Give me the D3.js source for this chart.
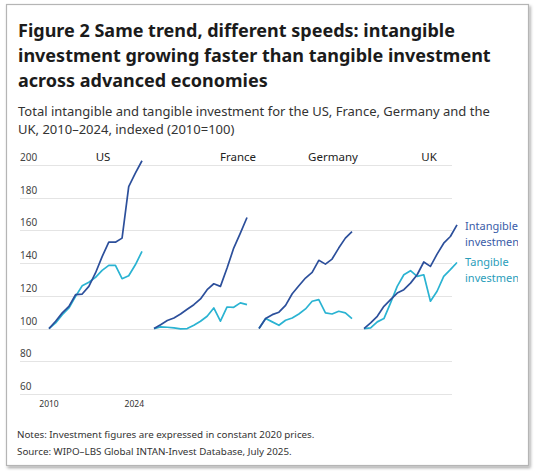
<!DOCTYPE html>
<html>
<head>
<meta charset="utf-8">
<script src="https://cdn.jsdelivr.net/npm/d3@7"></script>
<style>
  html, body { margin: 0; padding: 0; background: #fff; }
  svg { display: block; font-family: "Noto Sans", "Open Sans", sans-serif; }
</style>
</head>
<body>
<svg id="chart" width="537" height="474"></svg>
<script>
// ---------- data ----------
const years = [2010,2011,2012,2013,2014,2015,2016,2017,2018,2019,2020,2021,2022,2023,2024];
const countries = ["US", "France", "Germany", "UK"];
const intangibleUS      = [100,104.5,109.6,113.6,120.7,121.1,125.8,134,144,152.8,152.8,155.3,186.8,195,202.6];
const tangibleUS        = [100,103.5,108.5,112.6,119.7,126.2,128.3,131.3,135.6,138.6,138.6,130.5,132.3,139,147.2];
const intangibleFrance  = [100,102.4,104.9,106.5,108.9,111.8,114.6,118.1,123.8,127.4,125.8,137,149.2,158.3,167.9];
const tangibleFrance    = [100,101,100.8,100.4,99.8,100,102,104.5,107.5,112.6,104.5,113.2,113,115.7,114.6];
const intangibleGermany = [100,106.1,108.5,110,114.2,121.3,126.2,130.9,134.3,141.7,139.4,142.5,149.2,155.3,159.3];
const tangibleGermany   = [100,106.1,104.1,102,105.1,106.5,108.9,112,116.7,117.7,109.6,108.9,110.6,109.6,106.1];
const intangibleUK      = [100,103.5,107.5,113.6,117.7,121.7,123.8,127.8,132.9,140.7,138,145.5,152.2,156.3,163.4];
const tangibleUK        = [100,100.4,104.1,106.1,115.7,125.8,132.9,135.4,131.9,132.9,116.7,122.8,131.9,136,140.4];
const yTicks = [60,80,100,120,140,160,180,200];
const xTickLabels = ["2010","2024"];
const seriesNames = ["Intangible investment", "Tangible investment"];

const titleLines = [
  "Figure 2 Same trend, different speeds: intangible",
  "investment growing faster than tangible investment",
  "across advanced economies"
];
const subtitleLines = [
  "Total intangible and tangible investment for the US, France, Germany and the",
  "UK, 2010–2024, indexed (2010=100)"
];
const noteLines = [
  "Notes: Investment figures are expressed in constant 2020 prices.",
  "Source: WIPO–LBS Global INTAN-Invest Database, July 2025."
];

// ---------- layout / style ----------
const colInt = "#2c4f9b", colTan = "#2ab3d2";
const colIntText = "#3a5ca8", colTanText = "#2a9dba";
const titleCenterX = { US: 103, France: 238, Germany: 333, UK: 429 };

const svg = d3.select("#chart");

const defs = svg.append("defs");
const f = defs.append("filter").attr("id","shadow").attr("x","-5%").attr("y","-5%").attr("width","110%").attr("height","110%");
f.append("feDropShadow").attr("dx",1.5).attr("dy",2).attr("stdDeviation",1.5).attr("flood-color","#000").attr("flood-opacity",0.35);
defs.append("clipPath").attr("id","legendClip").append("rect").attr("x",0).attr("y",0).attr("width",518).attr("height",474);

// frame
svg.append("rect").attr("x",6.5).attr("y",4.5).attr("width",522).attr("height",461)
  .attr("fill","#fff").attr("stroke","#b5b5b5").attr("stroke-width",1.2).attr("filter","url(#shadow)");

function fitLines(sel, lines, x, y0, lh, targetW, weight, color, startSize) {
  const g = sel.append("g");
  const texts = g.selectAll("text").data(lines).join("text")
    .attr("x", x).attr("y", (d,i) => y0 + i*lh)
    .attr("fill", color).attr("font-weight", weight)
    .attr("font-size", startSize).text(d => d);
  const w = texts.node().getComputedTextLength();
  const size = startSize * targetW / w;
  texts.attr("font-size", size);
  return g;
}

fitLines(svg, titleLines, 18, 37, 25, 437, 700, "#1b1b1b", 20);
fitLines(svg, subtitleLines, 18, 116, 17.5, 472, 400, "#333", 14);
fitLines(svg, noteLines, 17, 438, 16.5, 298, 400, "#333", 10);

// scales
const y = d3.scaleLinear().domain([60, 200]).range([394, 165]);
const panel = d3.scalePoint().domain(countries).range([49, 364]);
const x = d3.scaleLinear().domain([2010, 2024]).range([0, 93]);

// gridlines + y labels
const grid = svg.append("g");
grid.selectAll("line").data(yTicks).join("line")
  .attr("x1", 20).attr("x2", 452)
  .attr("y1", d => Math.round(y(d)) + 0.5).attr("y2", d => Math.round(y(d)) + 0.5)
  .attr("stroke", "#e4e4e4").attr("stroke-width", 1);
grid.selectAll("text").data(yTicks).join("text")
  .attr("x", 20).attr("y", d => y(d) - 4)
  .attr("font-size", 10).attr("fill", "#444").text(d => d);

// x labels (under US panel)
svg.append("g").selectAll("text").data(xTickLabels).join("text")
  .attr("x", (d,i) => panel("US") + x(+d) + (i === 0 ? 0 : 2))
  .attr("y", 407)
  .attr("text-anchor", (d,i) => i === 0 ? "middle" : "end")
  .attr("font-size", 8.5).attr("fill", "#333").text(d => d);

// panels
const seriesData = {
  US: [intangibleUS, tangibleUS],
  France: [intangibleFrance, tangibleFrance],
  Germany: [intangibleGermany, tangibleGermany],
  UK: [intangibleUK, tangibleUK]
};
const line = d3.line().x(d => x(d[0])).y(d => y(d[1]));

countries.forEach(c => {
  const g = svg.append("g").attr("transform", `translate(${panel(c)},0)`);
  const [intg, tang] = seriesData[c];
  g.append("path").datum(years.map((yr,i) => [yr, tang[i]]))
    .attr("d", line).attr("fill","none").attr("stroke", colTan).attr("stroke-width", 1.7)
    .attr("stroke-linejoin","round");
  g.append("path").datum(years.map((yr,i) => [yr, intg[i]]))
    .attr("d", line).attr("fill","none").attr("stroke", colInt).attr("stroke-width", 1.7)
    .attr("stroke-linejoin","round");
  svg.append("text").attr("x", titleCenterX[c]).attr("y", 161)
    .attr("text-anchor","middle").attr("font-size", 11.5).attr("fill","#222").text(c);
});

// legend (direct labels next to UK lines)
const lg = svg.append("g").attr("clip-path","url(#legendClip)");
const legendItems = [
  { words: seriesNames[0].split(" "), color: colIntText, y0: 230 },
  { words: seriesNames[1].split(" "), color: colTanText, y0: 266 }
];
legendItems.forEach(it => {
  lg.append("text").attr("x", 465).attr("y", it.y0).attr("font-size", 11).attr("fill", it.color)
    .selectAll("tspan").data(it.words).join("tspan")
    .attr("x", 465).attr("dy", (d,i) => i === 0 ? 0 : 15.5).text(d => d);
});
</script>
</body>
</html>
